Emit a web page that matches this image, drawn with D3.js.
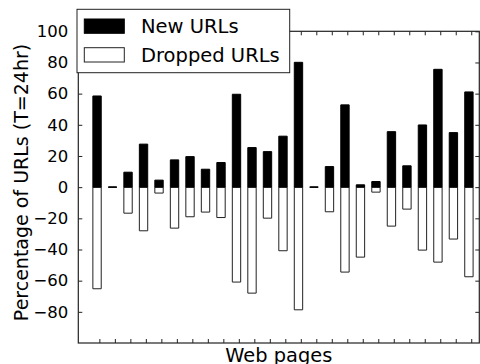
<!DOCTYPE html>
<html>
<head>
<meta charset="utf-8">
<script src="https://cdn.jsdelivr.net/npm/d3@7"></script>
<style>
  body { margin: 0; background: #fff; }
  svg { display: block; font-family: "DejaVu Sans", sans-serif; }
</style>
</head>
<body>
<svg id="chart"></svg>
<script>
// values (percent of URLs, T=24hr)
var pages = d3.range(25);
var newUrls = [58.5, 0, 9.6, 27.6, 4.5, 17.5, 19.6, 11.5, 15.8, 59.6, 25.4, 22.8, 32.7, 80.1, 0,
               13.2, 52.8, 1.5, 3.6, 35.6, 13.7, 39.9, 75.6, 35, 61.1];
var droppedUrls = [-65.2, 0, -16.7, -28, -3.8, -26.3, -19, -16, -19.5, -60.9, -68, -19.9, -40.8, -78.7, 0,
                   -15.8, -54.5, -44.9, -3.2, -25, -14.1, -40.4, -48.1, -33.3, -57.5];
var yTicks = [-80, -60, -40, -20, 0, 20, 40, 60, 80, 100];
var legendLabels = ["New URLs", "Dropped URLs"];

var width = 480, height = 364;
var svg = d3.select("#chart").attr("width", width).attr("height", height);

// plot box (window.top is reserved, so use other names)
var plotL = 78.3, plotR = 479.3, plotT = 31.3, plotB = 343;

var x = d3.scaleLinear().domain([-1.36, 24.52]).range([plotL, plotR]);
var y = d3.scaleLinear().domain([-100, 100]).range([plotB, plotT]);

var barLeft = -0.42, barWidth = 0.54;

function barPath(i, v) {
    var x0 = x(i + barLeft), x1 = x(i + barLeft + barWidth);
    var y0 = y(0), y1 = y(v);
    return "M" + x0 + "," + y0 + "H" + x1 + "V" + y1 + "H" + x0 + "Z";
}

// dropped (white) bars
svg.selectAll(".dropped")
    .data(pages)
    .enter()
    .append("path")
    .attr("class", "dropped")
    .attr("d", i => barPath(i, droppedUrls[i]))
    .attr("fill", "#fff")
    .attr("stroke", "#222")
    .attr("stroke-width", 1);

// new (black) bars
svg.selectAll(".new")
    .data(pages)
    .enter()
    .append("path")
    .attr("class", "new")
    .attr("d", i => barPath(i, newUrls[i]))
    .attr("fill", "#000")
    .attr("stroke", "#000")
    .attr("stroke-width", 1);

// axes with inward ticks on all four sides
var tickLen = 4;
svg.append("g")
    .attr("transform", "translate(0," + plotB + ")")
    .call(d3.axisBottom(x).tickValues(pages).tickSizeInner(-tickLen).tickSizeOuter(0).tickFormat(""));
svg.append("g")
    .attr("transform", "translate(0," + plotT + ")")
    .call(d3.axisTop(x).tickValues(pages).tickSizeInner(-tickLen).tickSizeOuter(0).tickFormat(""));
svg.append("g")
    .attr("transform", "translate(" + plotR + ",0)")
    .call(d3.axisRight(y).tickValues(yTicks).tickSizeInner(-tickLen).tickSizeOuter(0).tickFormat(""));
var yAxis = svg.append("g")
    .attr("transform", "translate(" + plotL + ",0)")
    .call(d3.axisLeft(y).tickValues(yTicks).tickSizeInner(-tickLen).tickSizeOuter(0).tickPadding(6 + tickLen)
        .tickFormat(d3.format("d")));
yAxis.selectAll("text")
    .style("font-size", "16.5px")
    .style("font-family", "DejaVu Sans")
    .attr("fill", "#000");
svg.selectAll(".domain").remove();
svg.selectAll(".tick line").attr("stroke", "#222");

// frame
svg.append("rect")
    .attr("x", plotL).attr("y", plotT)
    .attr("width", plotR - plotL).attr("height", plotB - plotT)
    .attr("fill", "none")
    .attr("stroke", "#222")
    .attr("stroke-width", 1.2);

// axis titles
svg.append("text")
    .attr("text-anchor", "middle")
    .attr("x", (plotL + plotR) / 2)
    .attr("y", 362)
    .style("font-size", "19.4px")
    .text("Web pages");

svg.append("text")
    .attr("text-anchor", "middle")
    .attr("transform", "translate(28,182.5) rotate(-90)")
    .style("font-size", "19px")
    .text("Percentage of URLs (T=24hr)");

// legend
var legend = svg.append("g");
legend.append("rect")
    .attr("x", 77).attr("y", 9.3)
    .attr("width", 212.7).attr("height", 63.4)
    .attr("fill", "#fff")
    .attr("stroke", "#222")
    .attr("stroke-width", 1);
legendLabels.forEach(function(label, k) {
    legend.append("rect")
        .attr("x", 84.3).attr("y", 19 + k * 28.7)
        .attr("width", 40).attr("height", 14.3)
        .attr("fill", k == 0 ? "#000" : "#fff")
        .attr("stroke", k == 0 ? "#000" : "#222")
        .attr("stroke-width", 1);
    legend.append("text")
        .attr("x", 141)
        .attr("y", 33.3 + k * 28.7)
        .style("font-size", "19.5px")
        .text(label);
});
</script>
</body>
</html>
